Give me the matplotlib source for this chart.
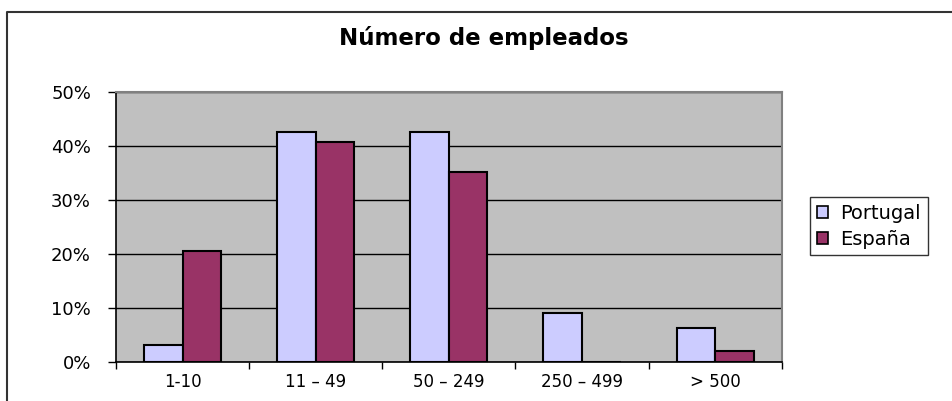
import matplotlib
matplotlib.use("Agg")
import matplotlib.pyplot as plt
from matplotlib.lines import Line2D
from matplotlib.patches import Patch
import numpy as np

categories = ["1-10", "11 \u2013 49", "50 \u2013 249", "250 \u2013 499", "> 500"]
portugal = [3.1, 42.5, 42.5, 9.0, 6.2]
espana = [20.5, 40.8, 35.1, 0.0, 2.0]
series_names = ["Portugal", "Espa\u00f1a"]
yticks = [0, 10, 20, 30, 40, 50]
ytick_labels = ["0%", "10%", "20%", "30%", "40%", "50%"]
title = "N\u00famero de empleados"

W, H = 952, 401
fig = plt.figure(figsize=(W / 100, H / 100), dpi=100)
fig.patch.set_facecolor("white")

ax = fig.add_axes([116 / W, 1 - 361.7 / H, (781.7 - 116) / W, (361.7 - 92) / H])
ax.set_facecolor("#C0C0C0")

x = np.arange(len(categories))
bw = 0.29
ax.bar(x - bw / 2, portugal, bw, color="#CCCCFF", edgecolor="black", linewidth=1.5, zorder=3)
ax.bar(x + bw / 2, espana, bw, color="#993366", edgecolor="black", linewidth=1.5, zorder=3)

ax.set_xlim(-0.5, len(categories) - 0.5)
ax.set_ylim(0, 50)
ax.set_yticks(yticks)
ax.set_yticklabels(ytick_labels, fontsize=13, family="DejaVu Sans")
ax.yaxis.grid(True, color="black", linewidth=1.0, zorder=1)
ax.set_axisbelow(True)

ax.set_xticks(np.arange(-0.5, len(categories)), minor=False)
ax.set_xticklabels([])
ax.set_xticks(x, minor=True)
ax.set_xticklabels(categories, minor=True, fontsize=12, family="DejaVu Sans")
ax.tick_params(axis="x", which="major", length=5, width=1, direction="out")
ax.tick_params(axis="x", which="minor", length=0, pad=8)
ax.tick_params(axis="y", length=6, width=1, direction="out", pad=12)

for s in ["left", "bottom"]:
    ax.spines[s].set_color("black")
    ax.spines[s].set_linewidth(1.2)
for s in ["top", "right"]:
    ax.spines[s].set_color("#808080")
    ax.spines[s].set_linewidth(1.5)

fig.text(483.5 / W, 1 - 38 / H, title, ha="center", va="center",
         fontsize=16.5, fontweight="bold", family="DejaVu Sans")

# chart border (left and top edges visible)
fig.add_artist(Line2D([7 / W, 7 / W, 1.01], [-0.01, 1 - 12 / H, 1 - 12 / H],
                      transform=fig.transFigure, color="#333333", linewidth=1.5))

handles = [Patch(facecolor="#CCCCFF", edgecolor="black", linewidth=1.2),
           Patch(facecolor="#993366", edgecolor="black", linewidth=1.2)]
leg = fig.legend(handles, series_names, loc="upper left",
                 bbox_to_anchor=(810 / W, 1 - 197 / H),
                 prop={"family": "DejaVu Sans", "size": 14},
                 frameon=True, fancybox=False, edgecolor="black",
                 handlelength=0.6, handleheight=0.6, handletextpad=0.6,
                 borderpad=0.35, labelspacing=0.35, borderaxespad=0)
leg.get_frame().set_linewidth(1.0)

fig.savefig("out.png", dpi=100, facecolor="white")
